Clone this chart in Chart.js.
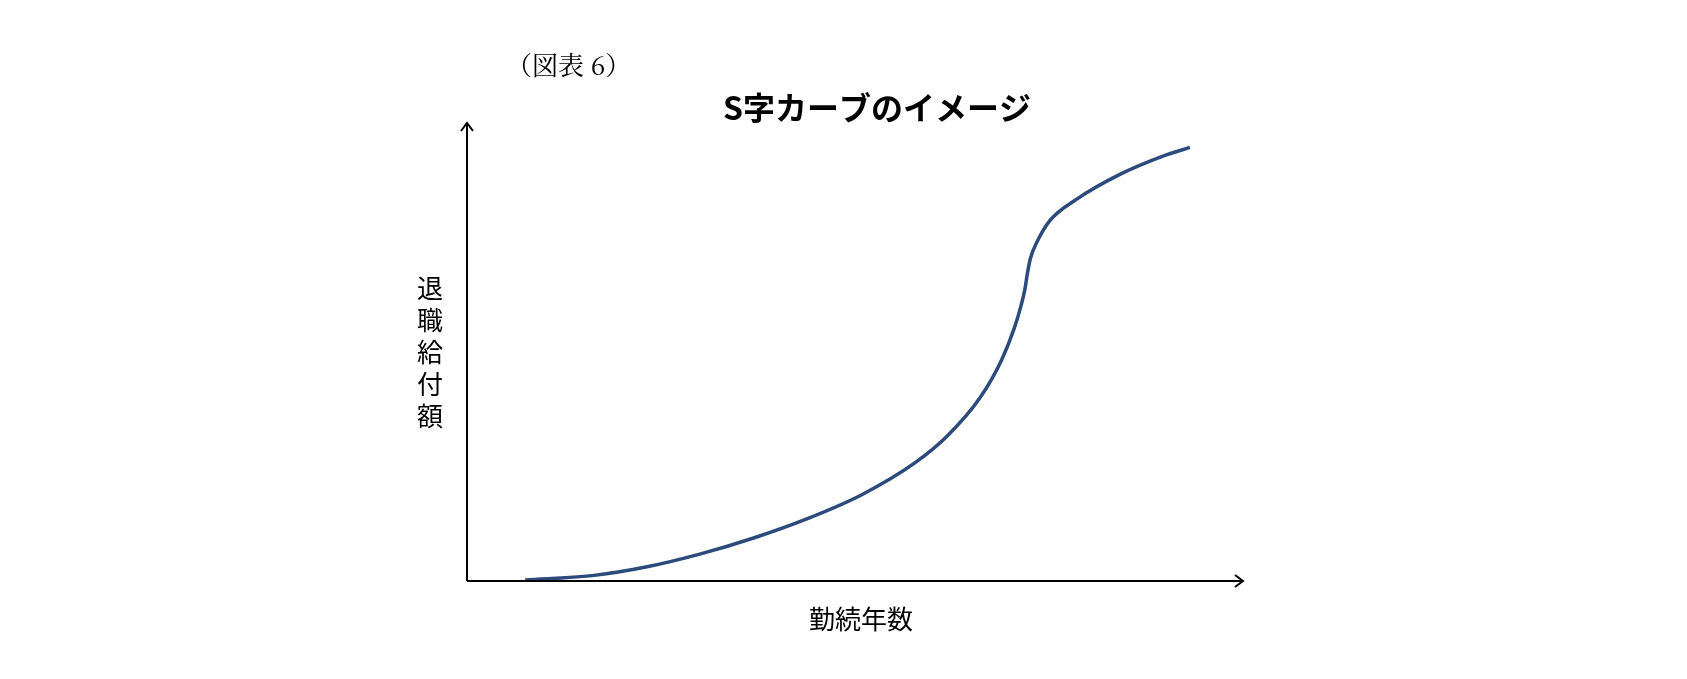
<!DOCTYPE html>
<html><head><meta charset="utf-8">
<script src="https://cdn.jsdelivr.net/npm/chart.js@4"></script>
<style>html,body{margin:0;padding:0;background:#fff}#w{width:1687px;height:679px}</style>
</head><body><div id="w"><canvas id="c"></canvas></div>
<script>
const xValues=[54,116,166,216,266,316,366,416,446,476,496,508,514,518,520,523,529,541,566,606,646,671];
const yValues=[1,5,13,25,40,58,80,110,135,170,205,235,255,272,285,300,315,335,355,378,395,403];
const title='S字カーブのイメージ';
const note='（図表 6）';
const xTitle='勤続年数';
const yTitle='退職給付額';
const deco={id:'deco',afterDraw(ch){const c=ch.ctx,a=ch.chartArea;c.save();
c.strokeStyle='#000';c.lineWidth=2;
c.beginPath();c.moveTo(a.left,a.bottom);c.lineTo(a.right+10,a.bottom);c.moveTo(a.left,a.bottom);c.lineTo(a.left,a.top-4);c.stroke();
c.beginPath();c.moveTo(a.right+2,a.bottom-6);c.lineTo(a.right+10,a.bottom);c.lineTo(a.right+2,a.bottom+6);c.stroke();
c.beginPath();c.moveTo(a.left-6,a.top+4);c.lineTo(a.left,a.top-4);c.lineTo(a.left+6,a.top+4);c.stroke();
c.fillStyle='#000';c.textAlign='center';c.textBaseline='middle';
c.font='bold 32px "Noto Sans CJK JP"';c.fillText(title,877,108);
c.font='26px "Noto Serif CJK JP","DejaVu Serif",serif';c.textAlign='left';c.fillText(note,506,65);
c.textAlign='center';c.font='26px "Noto Sans CJK JP"';c.fillText(xTitle,861,619);
[...yTitle].forEach((ch2,i)=>c.fillText(ch2,430,288+i*32));
c.restore();}};
new Chart(document.getElementById('c'),{type:'line',
data:{datasets:[{data:xValues.map((x,i)=>({x,y:yValues[i]})),borderColor:'#2c4a7c',borderWidth:3.5,pointRadius:0,cubicInterpolationMode:'monotone',fill:false}]},
options:{responsive:true,maintainAspectRatio:false,animation:false,
layout:{padding:{left:467,right:454,top:127,bottom:98}},
plugins:{legend:{display:false},tooltip:{enabled:false}},
scales:{x:{type:'linear',min:0,max:711,display:false},y:{min:0,max:422,display:false}}},
plugins:[deco]});
</script></body></html>
